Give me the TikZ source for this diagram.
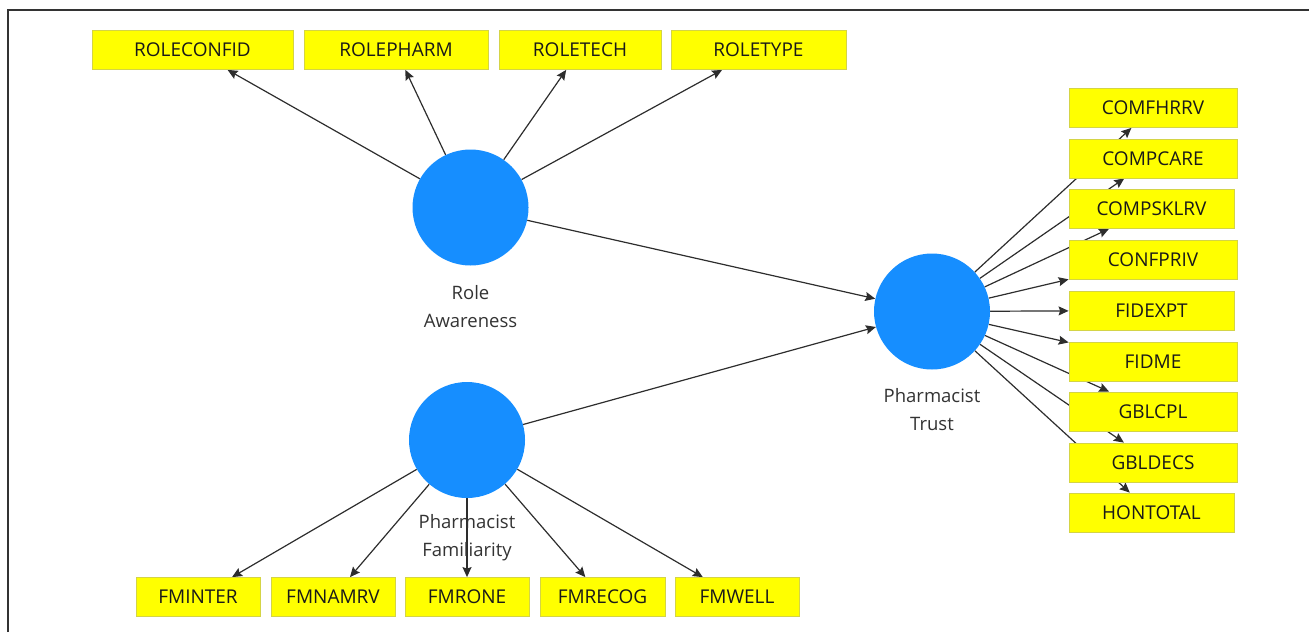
\documentclass[tikz,border=0pt]{standalone}
\usepackage{fontspec}
\setmainfont{Open Sans}
\usetikzlibrary{arrows.meta}
\pgfdeclarelayer{background}
\pgfsetlayers{background,main}
\definecolor{latentblue}{RGB}{22,142,255}
\definecolor{itemyellow}{RGB}{255,255,0}
\definecolor{itemborder}{RGB}{212,212,70}
\definecolor{pathgrey}{RGB}{45,45,45}

\begin{document}
\begin{tikzpicture}
  [
    x=1pt, y=-1pt,
    latent/.style={
      circle, fill=latentblue,
      minimum size=116pt, inner sep=0pt
    },
    indicator/.style={
      rectangle, fill=itemyellow, draw=itemborder, line width=0.8pt,
      minimum height=39pt, inner sep=0pt,
      font=\fontsize{19}{23}\selectfont, text=black!90
    },
    caption/.style={
      align=center, font=\fontsize{18.5}{28}\selectfont, text=black!80
    },
    loading/.style={
      draw=pathgrey, line width=1.2pt,
      -{Stealth[length=10pt,width=9pt,inset=1.5pt]}
    },
    frame/.style={
      draw=black!80, line width=1.5pt
    }
  ]
\useasboundingbox (0,0) rectangle (1309,632);
\draw [frame] (8,632) |- (1309,10);

% Role Awareness
\node (ra) [latent] at (470.5,207.5) {};
\node (racap) [caption] at (470.5,307) {Role\\Awareness};

\node (roleconfid) [indicator, minimum width=201pt] at (192.5,50) {ROLECONFID};
\node (rolepharm)  [indicator, minimum width=184pt] at (396,50)   {ROLEPHARM};
\node (roletech)   [indicator, minimum width=162pt] at (580,50)   {ROLETECH};
\node (roletype)   [indicator, minimum width=175pt] at (758.5,50) {ROLETYPE};

% Pharmacist Familiarity
\node (pf) [latent] at (467,440) {};
\node (pfcap) [caption] at (467,538) {Pharmacist\\Familiarity};

\node (fminter)  [indicator, minimum width=124pt] at (198,597)   {FMINTER};
\node (fmnamrv)  [indicator, minimum width=124pt] at (333,597)   {FMNAMRV};
\node (fmrone)   [indicator, minimum width=124pt] at (467,597)   {FMRONE};
\node (fmrecog)  [indicator, minimum width=125pt] at (602.5,597) {FMRECOG};
\node (fmwell)   [indicator, minimum width=124pt] at (737,597)   {FMWELL};

% Pharmacist Trust
\node (pt) [latent] at (932,311.5) {};
\node (ptcap) [caption] at (932,410) {Pharmacist\\Trust};

\node (comfhrrv)  [indicator, minimum width=168pt] at (1153,108)     {COMFHRRV};
\node (compcare)  [indicator, minimum width=168pt] at (1153,158.5)   {COMPCARE};
\node (compsklrv) [indicator, minimum width=165pt] at (1151.5,209)   {COMPSKLRV};
\node (confpriv)  [indicator, minimum width=168pt] at (1153,259.5)   {CONFPRIV};
\node (fidexpt)   [indicator, minimum width=165pt] at (1151.5,310.5) {FIDEXPT};
\node (fidme)     [indicator, minimum width=168pt] at (1153,361.5)   {FIDME};
\node (gblcpl)    [indicator, minimum width=168pt] at (1153,411.5)   {GBLCPL};
\node (gbldecs)   [indicator, minimum width=168pt] at (1153,462.5)   {GBLDECS};
\node (hontotal)  [indicator, minimum width=165pt] at (1151.5,512.5) {HONTOTAL};

% paths, behind the boxes
\begin{pgfonlayer}{background}
\draw [loading] (ra) -- (roleconfid);
\draw [loading] (ra) -- (rolepharm);
\draw [loading] (ra) -- (roletech);
\draw [loading] (ra) -- (roletype);

\draw [loading] (pf) -- (fminter);
\draw [loading] (pf) -- (fmnamrv);
\draw [loading] (pf) -- (fmrone);
\draw [loading] (pf) -- (fmrecog);
\draw [loading] (pf) -- (fmwell);

\draw [loading] (ra) -- (pt);
\draw [loading] (pf) -- (pt);

\draw [loading] (pt) -- (comfhrrv);
\draw [loading] (pt) -- (compcare);
\draw [loading] (pt) -- (compsklrv);
\draw [loading] (pt) -- (confpriv);
\draw [loading] (pt) -- (fidexpt);
\draw [loading] (pt) -- (fidme);
\draw [loading] (pt) -- (gblcpl);
\draw [loading] (pt) -- (gbldecs);
\draw [loading] (pt) -- (hontotal);
\end{pgfonlayer}

\end{tikzpicture}
\end{document}
